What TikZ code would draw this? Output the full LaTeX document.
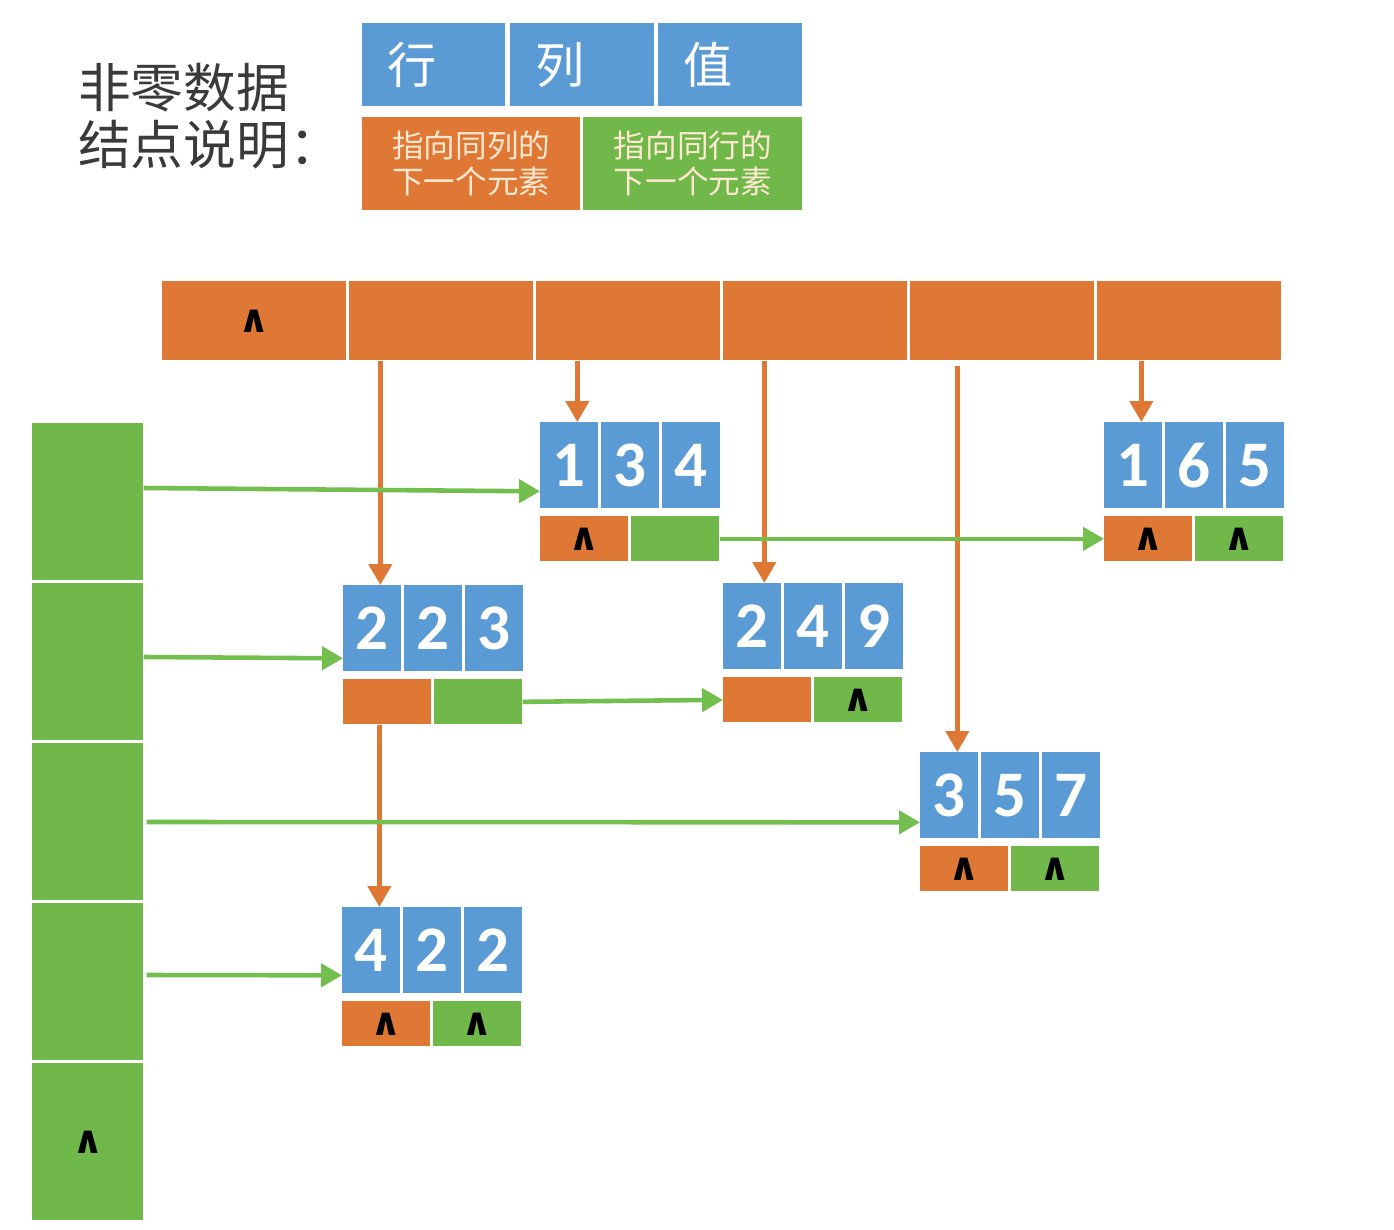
\documentclass[tikz,border=0pt]{standalone}
\usepackage{fontspec}
\usetikzlibrary{arrows.meta}
\newfontfamily\cjk{Noto Sans CJK SC}
\newfontfamily\numfont{Carlito}
\newfontfamily\symfont{DejaVu Sans}
\definecolor{cblue}{HTML}{5B9BD5}
\definecolor{corange}{HTML}{E07835}
\definecolor{cgreen}{HTML}{70B84A}
\definecolor{cgreenline}{HTML}{72BF4E}
\definecolor{ctitle}{HTML}{3A3A3A}
\newcommand\wdg{{\symfont\fontsize{22}{22}\selectfont\bfseries ∧}}
\tikzset{
  bcell/.style={fill=cblue, inner sep=0pt, minimum width=1.16cm, minimum height=1.72cm, text=white, font=\numfont\fontsize{37}{40}\selectfont\bfseries, anchor=north west},
  ocell/.style={fill=corange, inner sep=0pt, minimum width=1.76cm, minimum height=0.9cm, anchor=north west},
  gcell/.style={fill=cgreen, inner sep=0pt, minimum width=1.76cm, minimum height=0.9cm, anchor=north west},
  topcell/.style={fill=corange, inner sep=0pt, minimum width=3.68cm, minimum height=1.58cm, anchor=north west},
  leftcell/.style={fill=cgreen, inner sep=0pt, minimum width=2.22cm, minimum height=3.14cm, anchor=north west},
  oarr/.style={draw=corange, line width=2.6pt, -{Triangle[length=0.42cm,width=0.46cm]}},
  garr/.style={draw=cgreenline, line width=2.6pt, -{Triangle[length=0.42cm,width=0.46cm]}},
  legtext/.style={font=\cjk\fontsize{18}{20.5}\selectfont, text=white!82!orange, align=center},
}
\newcommand\mnode[8]{%
  \node[bcell] (#1a) at (#2,#3) {#4};
  \node[bcell] (#1b) at (#2+61,#3) {#5};
  \node[bcell] (#1c) at (#2+122,#3) {#6};
  \node[ocell] (#1o) at (#2,#3+94) {#7};
  \node[gcell] (#1g) at (#2+91,#3+94) {#8};
}
\begin{document}
\begin{tikzpicture}[x=0.02cm, y=-0.02cm]
\useasboundingbox (0,0) rectangle (1394,1230);
% legend
\node[anchor=west, align=left, text=ctitle, font=\cjk\fontsize{30}{32.5}\selectfont] (title) at (72,116) {非零数据\\结点说明：};
\node[fill=cblue, inner sep=0pt, minimum width=2.86cm, minimum height=1.66cm, anchor=north west] (lg1) at (362,23) {};
\node[fill=cblue, inner sep=0pt, minimum width=2.88cm, minimum height=1.66cm, anchor=north west] (lg2) at (510,23) {};
\node[fill=cblue, inner sep=0pt, minimum width=2.88cm, minimum height=1.66cm, anchor=north west] (lg3) at (658,23) {};
\node[anchor=west, text=white, font=\cjk\fontsize{28}{30}\selectfont] (lt1) at ([xshift=0.38cm]lg1.west) {行};
\node[anchor=west, text=white, font=\cjk\fontsize{28}{30}\selectfont] (lt2) at ([xshift=0.38cm]lg2.west) {列};
\node[anchor=west, text=white, font=\cjk\fontsize{28}{30}\selectfont] (lt3) at ([xshift=0.38cm]lg3.west) {值};
\node[fill=corange, inner sep=0pt, minimum width=4.36cm, minimum height=1.86cm, anchor=north west, legtext] (lg4) at (362,117) {指向同列的\\下一个元素};
\node[fill=cgreen, inner sep=0pt, minimum width=4.38cm, minimum height=1.86cm, anchor=north west, legtext] (lg5) at (583,117) {指向同行的\\下一个元素};
% top row
\node[topcell] (t1) at (162,281) {\wdg};
\node[topcell] (t2) at (349,281) {};
\node[topcell] (t3) at (536,281) {};
\node[topcell] (t4) at (723,281) {};
\node[topcell] (t5) at (910,281) {};
\node[topcell] (t6) at (1097,281) {};
% left column
\node[leftcell] (l1) at (32,423) {};
\node[leftcell] (l2) at (32,583) {};
\node[leftcell] (l3) at (32,743) {};
\node[leftcell] (l4) at (32,903) {};
\node[leftcell] (l5) at (32,1063) {\wdg};
% data nodes
\mnode{n134}{540}{422}{1}{3}{4}{\wdg}{}
\mnode{n165}{1104}{422}{1}{6}{5}{\wdg}{\wdg}
\mnode{n223}{343}{585}{2}{2}{3}{}{}
\mnode{n249}{723}{583}{2}{4}{9}{}{\wdg}
\mnode{n357}{920}{752}{3}{5}{7}{\wdg}{\wdg}
\mnode{n422}{342}{907}{4}{2}{2}{\wdg}{\wdg}
% column arrows
\draw[oarr] ([xshift=0.16cm]n223a.north |- t2.south) -- ([xshift=0.16cm]n223a.north);
\draw[oarr] ([xshift=0.16cm]n134a.north |- t3.south) -- ([xshift=0.16cm]n134a.north);
\draw[oarr] ([xshift=0.24cm]n249a.north |- t4.south) -- ([xshift=0.24cm]n249a.north);
\draw[oarr] ([xshift=0.16cm,yshift=-0.1cm]n357a.north |- t5.south) -- ([xshift=0.16cm]n357a.north);
\draw[oarr] ([xshift=0.16cm]n165a.north |- t6.south) -- ([xshift=0.16cm]n165a.north);
\draw[oarr] ([xshift=0.16cm]n422a.north |- n223o.south) -- ([xshift=0.16cm]n422a.north);
% row arrows
\draw[garr] (l1.east |- 0,488) -- ([yshift=-0.52cm]n134a.west);
\draw[garr] (n134g.east) -- (n165o.west);
\draw[garr] (l2.east |- 0,657) -- ([yshift=-0.6cm]n223a.west);
\draw[garr] (n223g.east) -- (n249o.west);
\draw[garr] ([xshift=0.06cm]l3.east |- 0,822) -- ([yshift=-0.54cm]n357a.west);
\draw[garr] ([xshift=0.06cm]l4.east |- 0,975) -- ([yshift=-0.5cm]n422a.west);
\end{tikzpicture}
\end{document}
